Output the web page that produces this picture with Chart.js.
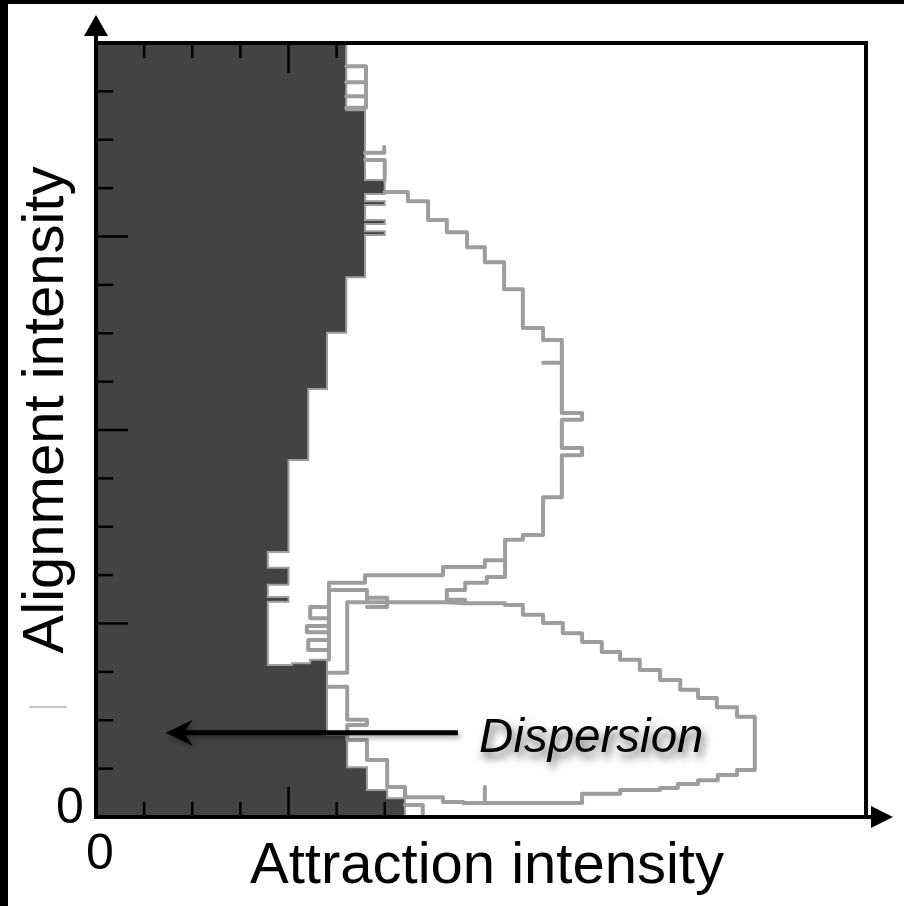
<!DOCTYPE html>
<html><head><meta charset="utf-8">
<script src="https://cdn.jsdelivr.net/npm/chart.js@4"></script>
<style>html,body{margin:0;padding:0;background:#fff;}#wrap{width:904px;height:906px;position:relative;}</style>
</head><body><div id="wrap"><canvas id="c" width="904" height="906"></canvas></div>
<script>
// ---- text ----
const xAxisTitle = 'Attraction intensity';
const yAxisTitle = 'Alignment intensity';
const originLabel = '0';
const regionLabel = 'Dispersion';

// ---- axis ticks (tick units) ----
const yTicks = [1,2,3,4,5,6,7,8,9,10,11,12,13,14,15];
const yLongTicks = [4,8,12];
const xBottomTicks = [1,2,3,4,5,6];
const xTopTicks = [1,2,3,4,5];
const xLongTicks = [4];
const axisMax = 16;

// ---- dark (dispersion) phase region: [attraction, alignment] ----
const darkRegion = [
 [0,0],[0,16],[5.2,16],[5.2,14.61],[5.59,14.61],[5.59,13.17],[6.0,13.17],[6.0,12.88],[5.59,12.88],
 [5.59,12.73],[6.0,12.73],[6.0,12.65],[5.59,12.65],
 [5.59,12.34],[6.0,12.34],[6.0,12.26],[5.59,12.26],
 [5.59,12.11],[6.0,12.11],[6.0,12.03],[5.59,12.03],
 [5.59,11.16],[5.2,11.16],[5.2,10.01],[4.8,10.01],[4.8,8.85],[4.41,8.85],[4.41,7.38],[4.0,7.38],
 [4.0,5.48],[3.57,5.48],[3.57,5.15],[4.0,5.15],[4.0,4.80],[3.57,4.80],[3.57,4.55],[4.0,4.55],[4.0,4.45],[3.57,4.45],
 [3.57,3.14],[4.07,3.14],[4.07,3.18],[4.45,3.18],[4.45,3.25],[4.8,3.25],
 [4.8,1.70],[5.22,1.70],[5.22,1.03],[5.63,1.03],[5.63,0.56],[6.05,0.56],[6.05,0.39],[6.42,0.39],[6.42,0],[0,0]
];

// ---- grey phase boundaries ----
const topCombOutline = [[5.2,15.52],[5.61,15.52],[5.61,14.66],[5.2,14.66]];
const topCombBarA = [[5.2,15.19],[5.61,15.19]];
const topCombBarB = [[5.2,14.90],[5.61,14.90]];
const hookLine = [[5.99,13.85],[5.99,13.73],[5.59,13.73]];
const boxLine = [[5.59,13.58],[6.0,13.58],[6.0,13.17]];
const upperCone = [
 [6.0,12.92],[6.48,12.92],[6.48,12.73],[6.90,12.73],[6.90,12.34],[7.29,12.34],[7.29,12.09],[7.71,12.09],
 [7.71,11.78],[8.08,11.78],[8.08,11.47],[8.48,11.47],[8.48,10.91],[8.87,10.91],[8.87,10.11],[9.29,10.11],
 [9.29,9.86],[9.68,9.86],[9.68,9.39],[9.29,9.39],[9.68,9.39],[9.68,8.35],[10.10,8.35],[10.10,8.21],[9.68,8.21],
 [9.68,7.63],[10.10,7.63],[10.10,7.48],[9.68,7.48],[9.68,6.61],[9.29,6.61],[9.29,5.83],[8.87,5.83],[8.87,5.73],
 [8.50,5.73],[8.50,5.31],[8.08,5.31],[8.08,5.17],[7.21,5.17],[7.21,5.00],[5.59,5.00],[5.59,4.84],[4.84,4.84],[4.84,3.25]
];
const stripLoop = [[8.50,5.31],[8.50,4.96],[8.12,4.96],[8.12,4.84],[7.67,4.84],[7.67,4.69],[7.29,4.69],[7.29,4.49],[7.67,4.49],[7.67,4.42]];
const junctionLine = [[4.84,4.69],[5.63,4.69],[5.63,4.44]];
const junctionBox = [[5.63,4.53],[6.05,4.53],[6.05,4.34],[5.63,4.34]];
const leftBoxA = [[4.84,4.34],[4.45,4.34],[4.45,4.11],[4.84,4.11]];
const leftBoxB = [[4.84,3.95],[4.38,3.95],[4.38,3.82],[4.84,3.82]];
const leftBoxC = [[4.84,3.66],[4.41,3.66],[4.41,3.45],[4.84,3.45]];
const lowerCone = [
 [4.84,2.98],[5.22,2.98],[5.22,4.44],[7.29,4.44],[7.67,4.42],[8.50,4.42],[8.50,4.38],[8.87,4.38],[8.87,4.18],
 [9.29,4.18],[9.29,4.01],[9.70,4.01],[9.70,3.80],[10.10,3.80],[10.10,3.62],[10.51,3.62],[10.51,3.41],[10.89,3.41],
 [10.89,3.25],[11.30,3.25],[11.30,3.04],[11.72,3.04],[11.72,2.83],[12.14,2.83],[12.14,2.63],[12.51,2.63],
 [12.51,2.46],[12.90,2.46],[12.90,2.27],[13.32,2.27],[13.32,2.07],[13.69,2.07],[13.69,0.97],[13.32,0.97],
 [13.32,0.87],[12.92,0.87],[12.92,0.76],[12.51,0.76],[12.51,0.68],[12.09,0.68],[12.09,0.60],[11.72,0.60],
 [11.72,0.56],[10.89,0.56],[10.89,0.48],[10.10,0.48],[10.10,0.29],[8.08,0.29],[8.08,0.62],[8.08,0.29],
 [7.63,0.29],[7.63,0.31],[7.21,0.31],[7.21,0.41],[6.42,0.41],[6.42,0.62],[6.05,0.62],[6.05,1.18],[5.63,1.18],
 [5.63,1.59],[5.22,1.59],[5.22,1.90],[5.63,1.90],[5.63,2.01],[5.22,2.01],[5.22,2.69],[4.84,2.69]
];
const bottomBox = [[6.42,0.25],[6.79,0.25],[6.79,0]];

// ---- annotation (data units) ----
const arrowFrom = [7.52, 1.74];
const arrowTo = [1.45, 1.74];
const regionLabelPos = [7.96, 1.34];

const greyLines = [topCombOutline, topCombBarA, topCombBarB, hookLine, boxLine, upperCone, stripLoop,
  junctionLine, junctionBox, leftBoxA, leftBoxB, leftBoxC, lowerCone, bottomBox];

const toPts = arr => arr.map(([x, y]) => ({x, y}));
const FONT = "'Liberation Sans', Arial, Helvetica, sans-serif";

const datasets = [];
greyLines.forEach(arr => datasets.push({
  data: toPts(arr), borderColor: '#9d9d9d', borderWidth: 4, pointRadius: 0, fill: false,
  borderJoinStyle: 'round', borderCapStyle: 'round', tension: 0, order: 1
}));
datasets.push({
  data: toPts(darkRegion), borderColor: '#9d9d9d', borderWidth: 2, backgroundColor: '#434343',
  fill: 'shape', pointRadius: 0, tension: 0, order: 10
});

const framePlugin = {
  id: 'frame',
  beforeDraw(chart) {
    const ctx = chart.ctx;
    ctx.save();
    ctx.fillStyle = '#fff'; ctx.fillRect(0, 0, chart.width, chart.height);
    ctx.fillStyle = '#000'; ctx.fillRect(0, 0, chart.width, 4); ctx.fillRect(0, 0, 8, chart.height);
    ctx.restore();
  },
  afterDatasetsDraw(chart) {
    const {ctx, chartArea: a} = chart;
    const xs = chart.scales.x, ys = chart.scales.y;
    const seg = (x1, y1, x2, y2) => { ctx.beginPath(); ctx.moveTo(x1, y1); ctx.lineTo(x2, y2); ctx.stroke(); };
    ctx.save();
    ctx.strokeStyle = '#000'; ctx.lineWidth = 2.5;
    yTicks.forEach(v => { const p = ys.getPixelForValue(v); seg(a.left, p, a.left + (yLongTicks.includes(v) ? 32 : 17), p); });
    xBottomTicks.forEach(v => { const p = xs.getPixelForValue(v); seg(p, a.bottom, p, a.bottom - (xLongTicks.includes(v) ? 30 : 15)); });
    xTopTicks.forEach(v => { const p = xs.getPixelForValue(v); seg(p, a.top, p, a.top + (xLongTicks.includes(v) ? 30 : 15)); });
    ctx.lineWidth = 4;
    ctx.beginPath(); ctx.moveTo(a.left, a.top); ctx.lineTo(a.right, a.top); ctx.lineTo(a.right, a.bottom); ctx.stroke();
    seg(a.left, a.bottom + 2, a.left, a.top - 10);
    seg(a.left - 2, a.bottom, a.right + 8, a.bottom);
    ctx.fillStyle = '#000';
    ctx.beginPath(); ctx.moveTo(a.left, a.top - 28); ctx.lineTo(a.left + 12, a.top - 7); ctx.lineTo(a.left - 12, a.top - 7); ctx.closePath(); ctx.fill();
    ctx.beginPath(); ctx.moveTo(a.right + 27, a.bottom); ctx.lineTo(a.right + 5, a.bottom - 11); ctx.lineTo(a.right + 5, a.bottom + 11); ctx.closePath(); ctx.fill();

    const ax1 = xs.getPixelForValue(arrowFrom[0]), ay = ys.getPixelForValue(arrowFrom[1]);
    const ax2 = xs.getPixelForValue(arrowTo[0]);
    ctx.shadowColor = 'rgba(0,0,0,0.35)'; ctx.shadowBlur = 5; ctx.shadowOffsetX = 2; ctx.shadowOffsetY = 3;
    ctx.lineWidth = 5; ctx.lineCap = 'butt';
    seg(ax1, ay, ax2 + 14, ay);
    ctx.beginPath(); ctx.moveTo(ax2, ay); ctx.lineTo(ax2 + 27, ay - 13); ctx.lineTo(ax2 + 18, ay); ctx.lineTo(ax2 + 27, ay + 13); ctx.closePath(); ctx.fill();
    ctx.shadowColor = 'rgba(0,0,0,0.6)'; ctx.shadowBlur = 9; ctx.shadowOffsetX = 3; ctx.shadowOffsetY = 6;
    ctx.font = 'italic 47.5px ' + FONT; ctx.textAlign = 'left'; ctx.textBaseline = 'alphabetic';
    ctx.fillText(regionLabel, xs.getPixelForValue(regionLabelPos[0]), ys.getPixelForValue(regionLabelPos[1]));
    ctx.restore();
  },
  afterDraw(chart) {
    const {ctx, chartArea: a} = chart;
    ctx.save();
    ctx.fillStyle = '#000'; ctx.textBaseline = 'alphabetic'; ctx.textAlign = 'center';
    ctx.font = '58px ' + FONT;
    ctx.fillText(xAxisTitle, a.left + 391, a.bottom + 66);
    ctx.save();
    ctx.translate(a.left - 33, a.top + 367); ctx.rotate(-Math.PI / 2);
    ctx.fillText(yAxisTitle, 0, 0);
    ctx.restore();
    ctx.font = '50px ' + FONT;
    ctx.fillText(originLabel, a.left - 26, a.bottom + 6);
    ctx.fillText(originLabel, a.left + 4, a.bottom + 52);
    ctx.strokeStyle = '#c8c8c8'; ctx.lineWidth = 2;
    ctx.beginPath(); ctx.moveTo(a.left - 67, a.bottom - 110); ctx.lineTo(a.left - 29, a.bottom - 110); ctx.stroke();
    ctx.restore();
  }
};

new Chart(document.getElementById('c'), {
  type: 'line',
  data: { datasets },
  options: {
    responsive: false, animation: false, events: [],
    layout: { padding: { left: 96, top: 43, right: 38, bottom: 89 } },
    scales: {
      x: { type: 'linear', min: 0, max: axisMax, display: false },
      y: { type: 'linear', min: 0, max: axisMax, display: false }
    },
    plugins: { legend: { display: false }, tooltip: { enabled: false } }
  },
  plugins: [framePlugin]
});
</script></body></html>
